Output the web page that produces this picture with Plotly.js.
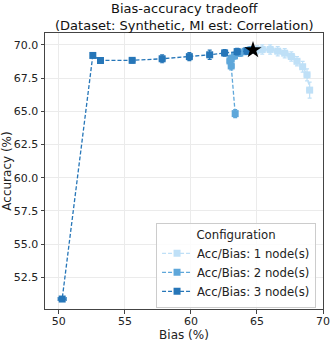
<!DOCTYPE html>
<html>
<head>
<meta charset="utf-8">
<script src="https://cdn.plot.ly/plotly-3.0.1.min.js"></script>
<style>
  body { margin: 0; padding: 0; background: #fff; }
  #chart { width: 332px; height: 342px; }
</style>
</head>
<body>
<div id="chart"></div>
<script>
// 1 node
let bias1 = [65.0, 65.4, 66.0, 66.57, 67.1, 67.6, 68.03, 68.46, 68.79, 68.99];
let bias1Err = [0.25, 0.25, 0.25, 0.25, 0.25, 0.25, 0.2, 0.2, 0.2, 0.2];
let acc1 = [69.63, 69.66, 69.66, 69.53, 69.38, 69.13, 68.77, 68.36, 67.75, 66.6];
let acc1Err = [0.3, 0.35, 0.35, 0.35, 0.35, 0.35, 0.35, 0.4, 0.45, 0.6];

// 2 nodes
let bias2 = [64.5, 64.1, 63.7, 63.3, 63.05, 62.95, 63.05, 63.35];
let bias2Err = [0.2, 0.2, 0.2, 0.2, 0.2, 0.2, 0.2, 0.15];
let acc2 = [69.62, 69.52, 69.38, 69.18, 68.98, 68.8, 68.42, 64.83];
let acc2Err = [0.25, 0.25, 0.25, 0.25, 0.25, 0.3, 0.3, 0.3];

// 3 nodes
let bias3 = [64.25, 63.5, 62.55, 61.42, 59.88, 57.82, 55.55, 53.15, 52.57, 50.25];
let bias3Err = [0.2, 0.2, 0.2, 0.2, 0.2, 0.2, 0.2, 0.2, 0.1, 0.3];
let acc3 = [69.55, 69.5, 69.4, 69.26, 69.12, 68.96, 68.84, 68.83, 69.21, 50.87];
let acc3Err = [0.25, 0.25, 0.25, 0.35, 0.3, 0.3, 0.2, 0.15, 0.1, 0.1];

let bestBias = [64.7];
let bestAcc = [69.62];

let names = ["Acc/Bias: 1 node(s)", "Acc/Bias: 2 node(s)", "Acc/Bias: 3 node(s)"];
let colors = ["#bfe0f7", "#5ea7da", "#2676b8"];
let xTicks = [50, 55, 60, 65, 70];
let yTicks = [52.5, 55.0, 57.5, 60.0, 62.5, 65.0, 67.5, 70.0];

function series(x, xe, y, ye, name, color) {
    return {
        x: x,
        y: y,
        name: name,
        mode: 'lines+markers',
        type: 'scatter',
        hoverinfo: 'skip',
        error_x: { type: 'data', array: xe, color: color, thickness: 1.2, width: 2 },
        error_y: { type: 'data', array: ye, color: color, thickness: 1.2, width: 2 },
        marker: { symbol: 'square', size: 7, color: color },
        line: { color: color, width: 1.3, dash: '4px,2px' }
    };
}

let data = [
    series(bias1, bias1Err, acc1, acc1Err, names[0], colors[0]),
    series(bias2, bias2Err, acc2, acc2Err, names[1], colors[1]),
    series(bias3, bias3Err, acc3, acc3Err, names[2], colors[2]),
    {
        x: bestBias,
        y: bestAcc,
        mode: 'markers',
        type: 'scatter',
        hoverinfo: 'skip',
        showlegend: false,
        marker: { symbol: 'star', size: 13, color: 'black' }
    }
];

let axisFont = { family: 'DejaVu Sans', size: 11, color: '#222' };

let layout = {
    width: 332,
    height: 342,
    margin: { l: 45, r: 9, t: 33, b: 33 },
    paper_bgcolor: '#fff',
    plot_bgcolor: '#fff',
    font: { family: 'DejaVu Sans', size: 11, color: '#222' },
    title: {
        text: 'Bias-accuracy tradeoff<br>(Dataset: Synthetic, MI est: Correlation)',
        font: { family: 'DejaVu Sans', size: 13, color: '#111' },
        x: 0.555,
        xanchor: 'center',
        y: 0.962,
        yanchor: 'top'
    },
    xaxis: {
        range: [48.95, 70.0],
        tickvals: xTicks,
        ticktext: xTicks.map(String),
        ticks: 'outside',
        ticklen: 3.5,
        tickcolor: '#444',
        tickfont: axisFont,
        ticklabelstandoff: -2,
        showgrid: true,
        gridcolor: '#ebebeb',
        zeroline: false,
        showline: true,
        linecolor: '#444',
        linewidth: 1,
        mirror: true,
        title: { text: 'Bias (%)', font: { family: 'DejaVu Sans', size: 12, color: '#222' }, standoff: 7 }
    },
    yaxis: {
        range: [50.12, 70.9],
        tickvals: yTicks,
        ticktext: yTicks.map(v => v.toFixed(1)),
        ticks: 'outside',
        ticklen: 3.5,
        tickcolor: '#444',
        tickfont: axisFont,
        showgrid: true,
        gridcolor: '#ebebeb',
        zeroline: false,
        showline: true,
        linecolor: '#444',
        linewidth: 1,
        mirror: true,
        title: { text: 'Accuracy (%)', font: { family: 'DejaVu Sans', size: 12, color: '#222' }, standoff: 3 }
    },
    legend: {
        x: 0.975,
        xanchor: 'right',
        y: 0.005,
        yanchor: 'bottom',
        bgcolor: 'rgba(255,255,255,0.85)',
        bordercolor: '#cccccc',
        borderwidth: 1,
        font: { family: 'DejaVu Sans', size: 11.7, color: '#222' },
        title: { text: 'Configuration', side: 'top center', font: { family: 'DejaVu Sans', size: 11.7, color: '#222' } },
        tracegroupgap: 0,
        itemwidth: 30
    },
    showlegend: true
};

Plotly.newPlot('chart', data, layout, { staticPlot: true, displayModeBar: false });
</script>
</body>
</html>
